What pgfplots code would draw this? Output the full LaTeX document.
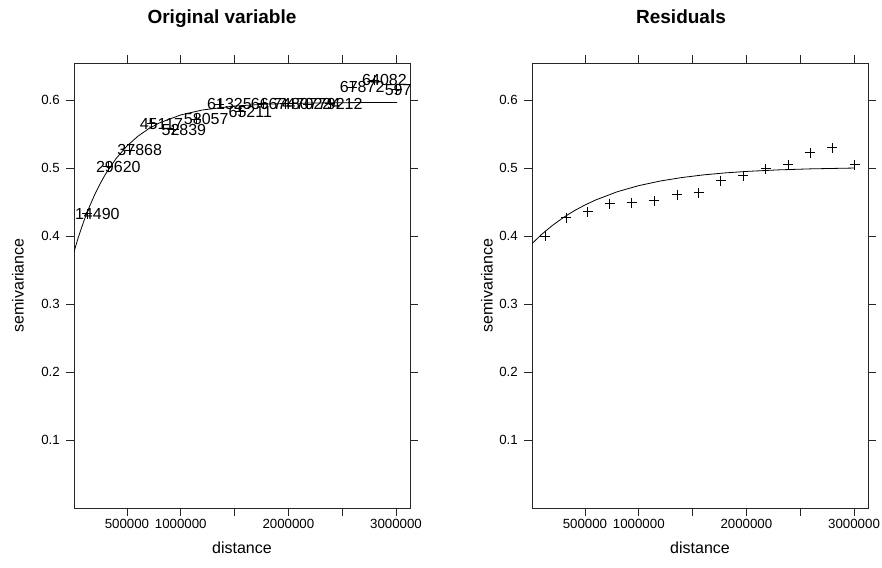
\documentclass[border=0pt]{standalone}
\usepackage{fontspec}
\setmainfont{Liberation Sans}
\usepackage{pgfplots}
\pgfplotsset{compat=1.18}

% binned sample variogram, original variable: distance, gamma, number of pairs
\pgfplotstableread{
dist gamma np
130000 0.433 14490
325000 0.502 29620
524000 0.5265 37868
731000 0.5657 45117
934000 0.557 52839
1142000 0.572 58057
1358000 0.5947 61325
1557000 0.583 65211
1764000 0.595 66674
1971000 0.595 74807
2180000 0.594 70224
2387000 0.595 79212
2591000 0.619 67872
2798000 0.630 64082
3008000 0.616 59781
}\vgorig

% residuals
\pgfplotstableread{
dist gamma
130000 0.400
325000 0.4275
524000 0.4363
731000 0.448
934000 0.449
1142000 0.452
1358000 0.4613
1557000 0.4637
1764000 0.4819
1971000 0.4892
2180000 0.499
2387000 0.5054
2591000 0.523
2798000 0.5299
3008000 0.5054
}\vgres

% fitted model curves
\pgfplotstableread{
dist gamma
0 0.373
50000 0.3993
100000 0.4226
150000 0.4430
200000 0.4611
250000 0.4771
300000 0.4912
400000 0.5146
500000 0.5328
600000 0.5470
700000 0.5581
800000 0.5667
1000000 0.5786
1200000 0.5858
1500000 0.5917
1800000 0.5945
2200000 0.5961
2600000 0.5967
3010000 0.5969
}\fitorig

\pgfplotstableread{
dist gamma
0 0.388
100000 0.4031
200000 0.4162
300000 0.4276
400000 0.4375
500000 0.4460
600000 0.4534
800000 0.4655
1000000 0.4745
1200000 0.4813
1400000 0.4864
1600000 0.4903
1800000 0.4932
2000000 0.4954
2300000 0.4977
2600000 0.4992
3005000 0.5004
}\fitres

\pgfplotsset{
  vgpanel/.style={
    scale only axis, width=336pt, height=445pt,
    anchor=south west,
    xmin=8000, xmax=3130000, ymin=0, ymax=0.655,
    axis line style={black!85, line width=0.8pt},
    tick style={black!85, line width=0.8pt},
    tick align=outside, major tick length=8pt,
    xtick pos=both, ytick pos=both,
    xticklabel pos=lower, yticklabel pos=left,
    xtick={500000,1000000,1500000,2000000,2500000,3000000},
    xticklabels={500000,1000000,,2000000,,3000000},
    ytick={0.1,0.2,0.3,0.4,0.5,0.6},
    yticklabels={0.1,0.2,0.3,0.4,0.5,0.6},
    scaled x ticks=false,
    ticklabel style={font=\fontsize{13.3}{15}\selectfont},
    xticklabel style={anchor=north, inner sep=0pt, yshift=-3pt},
    yticklabel style={anchor=east, inner sep=0pt, xshift=-6pt},
    label style={font=\fontsize{16}{18}\selectfont},
    xlabel={distance}, ylabel={semivariance},
    xlabel style={at={(axis description cs:0.5,0)}, anchor=center, yshift=-40pt},
    every axis plot/.append style={black},
  }
}

\begin{document}
\begin{tikzpicture}[x=1pt,y=1pt]
\useasboundingbox (0,0) rectangle (882,567);

\begin{axis}[vgpanel, at={(74pt,59pt)},
  ylabel style={at={(axis description cs:0,0.5)}, anchor=center, yshift=56pt},
  clip marker paths=true]
\addplot[mark=+, only marks, mark size=5pt, line width=0.9pt,
  point meta=explicit symbolic, nodes near coords,
  nodes near coords style={anchor=west, inner sep=0pt, xshift=-12.5pt,
    font=\fontsize{16}{18}\selectfont, text=black}]
  table[x=dist, y=gamma, meta=np] {\vgorig};
\addplot[no marks, line width=0.8pt] table[x=dist, y=gamma] {\fitorig};
\end{axis}

\begin{axis}[vgpanel, at={(532pt,59pt)},
  ylabel style={at={(axis description cs:0,0.5)}, anchor=center, yshift=45pt}]
\addplot[mark=+, only marks, mark size=5pt, line width=1pt]
  table[x=dist, y=gamma] {\vgres};
\addplot[no marks, line width=0.8pt] table[x=dist, y=gamma] {\fitres};
\end{axis}

\node[anchor=base, font=\bfseries\fontsize{19}{22}\selectfont] at (222,543) {Original variable};
\node[anchor=base, font=\bfseries\fontsize{19}{22}\selectfont] at (681,543) {Residuals};
\end{tikzpicture}
\end{document}
